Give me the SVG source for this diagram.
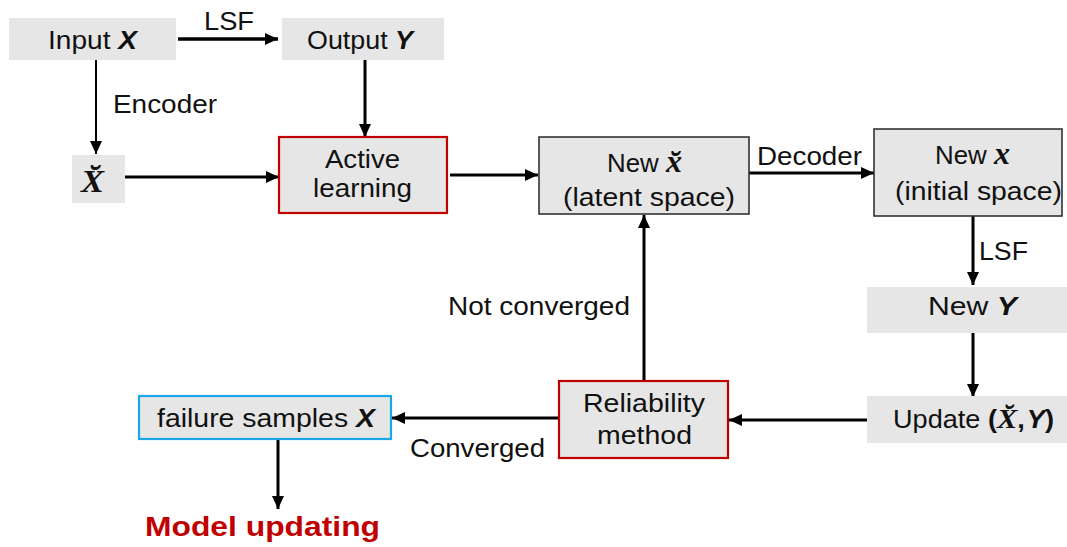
<svg xmlns="http://www.w3.org/2000/svg" width="1067" height="547" viewBox="0 0 1067 547">
  <style>
    .box { fill: #e6e6e6; }
    .red { fill: #e6e6e6; stroke: #c00000; stroke-width: 2.2; }
    .dark { fill: #e6e6e6; stroke: #333333; stroke-width: 1.6; }
    .blue { fill: #e6e6e6; stroke: #1aa7e6; stroke-width: 2.2; }
    .t { font-family: "Liberation Sans", Arial, sans-serif; font-size: 25px; fill: #111111; }
    .bi { font-weight: bold; font-style: italic; }
    .b { font-weight: bold; }
    .m { font-family: "Liberation Serif", "Times New Roman", serif; font-weight: bold; font-style: italic; }
    .c { fill: none; stroke: #000000; stroke-width: 3; marker-end: url(#ah); }
    .thin { stroke-width: 2; }
    .title { font-family: "Liberation Sans", Arial, sans-serif; font-size: 27px; font-weight: bold; fill: #c00000; }
  </style>
  <defs>
    <marker id="ah" markerUnits="userSpaceOnUse" markerWidth="13" markerHeight="12" refX="13" refY="6" orient="auto">
      <path d="M0,0 L13,6 L0,12 z" fill="#000000"/>
    </marker>
  </defs>

  <rect width="1067" height="547" fill="#ffffff"/>

  <!-- connectors -->
  <g id="connectors">
    <path class="c" d="M178,39 H278" style="stroke-width:3.5"/>
    <text class="t" x="204" y="30" textLength="50" lengthAdjust="spacingAndGlyphs">LSF</text>
    <path class="c thin" d="M96,60 V154"/>
    <text class="t" x="113" y="113" textLength="104" lengthAdjust="spacingAndGlyphs">Encoder</text>
    <path class="c" d="M365,60 V137"/>
    <path class="c" d="M125,177 H279"/>
    <path class="c" d="M450,175 H538"/>
    <path class="c" d="M749,173 H874"/>
    <text class="t" x="757" y="165" textLength="105" lengthAdjust="spacingAndGlyphs">Decoder</text>
    <path class="c" d="M973,216 V285"/>
    <text class="t" x="979" y="260" textLength="49" lengthAdjust="spacingAndGlyphs">LSF</text>
    <path class="c" d="M973,333 V397"/>
    <path class="c" d="M867,420 H729"/>
    <path class="c" d="M644,381 V215"/>
    <text class="t" x="448" y="315" textLength="182" lengthAdjust="spacingAndGlyphs">Not converged</text>
    <path class="c" d="M559,418 H392"/>
    <text class="t" x="410" y="457" textLength="135" lengthAdjust="spacingAndGlyphs">Converged</text>
    <path class="c" d="M278,439 V509"/>
  </g>

  <g id="input-x">
    <rect class="box" x="9" y="18" width="167" height="42"/>
    <text class="t" x="48" y="49" textLength="89" lengthAdjust="spacingAndGlyphs">Input <tspan class="bi">X</tspan></text>
  </g>

  <g id="output-y">
    <rect class="box" x="282" y="18" width="162" height="42"/>
    <text class="t" x="307" y="49" textLength="106" lengthAdjust="spacingAndGlyphs">Output <tspan class="bi">Y</tspan></text>
  </g>

  <g id="latent-x">
    <rect class="box" x="72" y="155" width="53" height="48"/>
    <text class="t m" x="81" y="192" style="font-size:32px" textLength="23" lengthAdjust="spacingAndGlyphs">X̆</text>
  </g>

  <g id="active-learning">
    <rect class="red" x="279" y="137" width="168" height="76"/>
    <text class="t" x="325" y="168" textLength="75" lengthAdjust="spacingAndGlyphs">Active</text>
    <text class="t" x="313" y="197" textLength="99" lengthAdjust="spacingAndGlyphs">learning</text>
  </g>

  <g id="new-latent">
    <rect class="dark" x="539" y="137" width="210" height="77"/>
    <text class="t" x="607" y="172" textLength="75" lengthAdjust="spacingAndGlyphs">New <tspan class="m" style="font-size:31px">x̆</tspan></text>
    <text class="t" x="563" y="206" textLength="172" lengthAdjust="spacingAndGlyphs">(latent space)</text>
  </g>

  <g id="new-initial">
    <rect class="dark" x="874" y="129" width="188" height="87"/>
    <text class="t" x="935" y="164" textLength="75" lengthAdjust="spacingAndGlyphs">New <tspan class="m" style="font-size:31px">x</tspan></text>
    <text class="t" x="895" y="200" textLength="167" lengthAdjust="spacingAndGlyphs">(initial space)</text>
  </g>

  <g id="new-y">
    <rect class="box" x="867" y="287" width="200" height="46"/>
    <text class="t" x="928" y="315" textLength="89" lengthAdjust="spacingAndGlyphs">New <tspan class="bi">Y</tspan></text>
  </g>

  <g id="update">
    <rect class="box" x="867" y="396" width="200" height="47"/>
    <text class="t" x="893" y="428" textLength="161" lengthAdjust="spacingAndGlyphs">Update <tspan class="b">(</tspan><tspan class="m" style="font-size:28px">X̆</tspan><tspan class="b">,</tspan><tspan class="bi" dx="2">Y</tspan><tspan class="b">)</tspan></text>
  </g>

  <g id="reliability">
    <rect class="red" x="559" y="381" width="169" height="77"/>
    <text class="t" x="583" y="412" textLength="122" lengthAdjust="spacingAndGlyphs">Reliability</text>
    <text class="t" x="597" y="444" textLength="95" lengthAdjust="spacingAndGlyphs">method</text>
  </g>

  <g id="failure-samples">
    <rect class="blue" x="139" y="396" width="252" height="43"/>
    <text class="t" x="157" y="427" textLength="218" lengthAdjust="spacingAndGlyphs">failure samples <tspan class="bi">X</tspan></text>
  </g>

  <g id="model-updating">
    <text class="title" x="145" y="536" textLength="235" lengthAdjust="spacingAndGlyphs">Model updating</text>
  </g>
</svg>
